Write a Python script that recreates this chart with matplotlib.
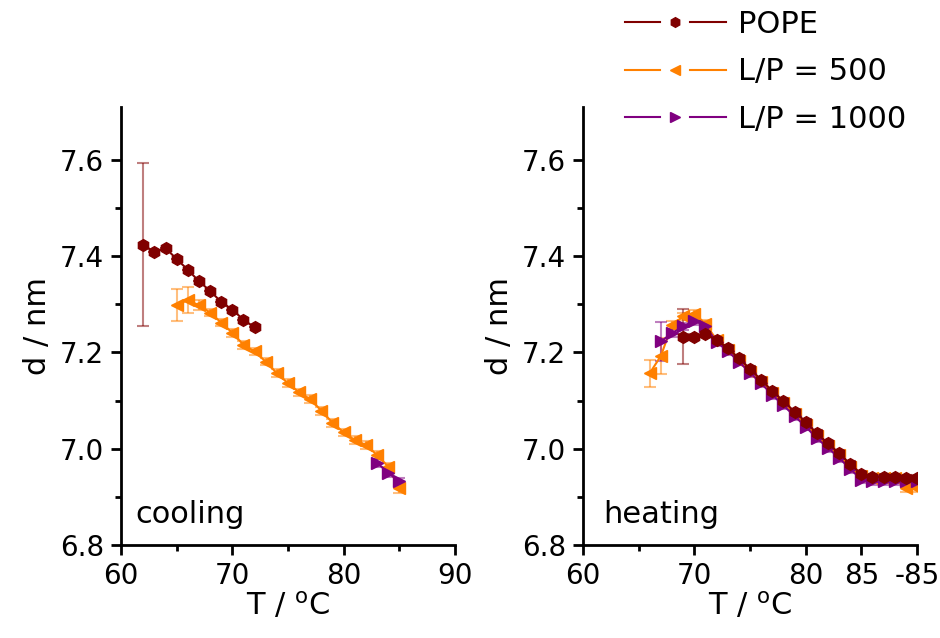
import matplotlib
matplotlib.use("Agg")
import matplotlib.pyplot as plt
from matplotlib.lines import Line2D
from matplotlib.legend_handler import HandlerBase
from matplotlib.ticker import MultipleLocator, FixedLocator

plt.rcParams["font.family"] = ["DejaVu Sans"]

# cooling (left panel)
cool_T_pope = [62, 63, 64, 65, 66, 67, 68, 69, 70, 71, 72]
cool_d_pope = [7.424, 7.408, 7.417, 7.394, 7.372, 7.348, 7.328, 7.305, 7.289, 7.268, 7.252]
cool_e_pope = [0.17, 0, 0, 0, 0, 0, 0, 0, 0, 0, 0]

cool_T_500 = [65, 66, 67, 68, 69, 70, 71, 72, 73, 74, 75, 76, 77, 78, 79, 80, 81, 82, 83, 84, 85]
cool_d_500 = [7.298, 7.309, 7.298, 7.283, 7.262, 7.241, 7.216, 7.202, 7.181, 7.157, 7.136,
              7.117, 7.103, 7.079, 7.054, 7.034, 7.018, 7.008, 6.987, 6.963, 6.918]
cool_e_500 = [0.033, 0.028, 0.01, 0.008, 0.008, 0.008, 0.008, 0.008, 0.008, 0.008, 0.008,
              0.008, 0.008, 0.008, 0.008, 0.008, 0.008, 0.008, 0.008, 0.008, 0.01]

cool_T_1000 = [83, 84, 85]
cool_d_1000 = [6.971, 6.950, 6.932]
cool_e_1000 = [0.008, 0.008, 0.008]

# heating (right panel); positions 86-90 are the hold at 85 °C
heat_T_pope = [69, 70, 71, 72, 73, 74, 75, 76, 77, 78, 79, 80, 81, 82, 83, 84, 85, 86, 87, 88, 89, 90]
heat_d_pope = [7.233, 7.233, 7.238, 7.226, 7.209, 7.188, 7.166, 7.143, 7.120, 7.099, 7.077,
               7.056, 7.032, 7.011, 6.991, 6.968, 6.948, 6.941, 6.941, 6.941, 6.939, 6.939]
heat_e_pope = [0.058] + [0.006] * 21

heat_T_500 = [66, 67, 68, 69, 70, 71, 72, 73, 74, 75, 76, 77, 78, 79, 80, 81, 82, 83, 84, 85,
              86, 87, 88, 89, 90]
heat_d_500 = [7.157, 7.193, 7.257, 7.275, 7.280, 7.260, 7.226, 7.205, 7.183, 7.160, 7.138,
              7.115, 7.094, 7.072, 7.050, 7.027, 7.006, 6.986, 6.963, 6.943, 6.940, 6.940,
              6.940, 6.918, 6.918]
heat_e_500 = [0.028, 0.038] + [0.008] * 23

heat_T_1000 = [67, 68, 69, 70, 71, 72, 73, 74, 75, 76, 77, 78, 79, 80, 81, 82, 83, 84, 85,
               86, 87, 88, 89, 90]
heat_d_1000 = [7.223, 7.240, 7.254, 7.266, 7.255, 7.222, 7.203, 7.181, 7.158, 7.136, 7.112,
               7.090, 7.068, 7.046, 7.022, 7.002, 6.981, 6.958, 6.936, 6.932, 6.932, 6.932,
               6.932, 6.932]
heat_e_1000 = [0.04] + [0.008] * 23

heat_ticks = [60, 70, 80, 85, 90]
heat_ticklabels = ["60", "70", "80", "85", "-85"]

c_pope = "#800000"
c_500 = "#ff8000"
c_1000 = "#800080"


class GapHandler(HandlerBase):
    # line - marker - line, with gaps round the marker (Origin style)
    def create_artists(self, legend, orig, xdescent, ydescent, width, height, fontsize, trans):
        y = height / 2 - ydescent
        x0 = -xdescent
        kw = dict(color=orig.get_color(), lw=orig.get_linewidth())
        l1 = Line2D([x0, x0 + 0.35 * width], [y, y], **kw)
        l2 = Line2D([x0 + 0.65 * width, x0 + width], [y, y], **kw)
        m = Line2D([x0 + width / 2], [y], marker=orig.get_marker(), ms=7,
                   color=orig.get_color(), ls="none")
        for a in (l1, l2, m):
            a.set_transform(trans)
        return [l1, l2, m]


fig = plt.figure(figsize=(9.4, 6.38), dpi=100)
ax1 = fig.add_axes([0.1287, 0.1458, 0.3553, 0.6865])
ax2 = fig.add_axes([0.6202, 0.1458, 0.3553, 0.6865])


def draw(ax, T, d, e, color, marker, label, ms):
    ax.errorbar(T, d, yerr=e, fmt="none", ecolor=color, alpha=0.5, elinewidth=1.5,
                capsize=4, capthick=1.5, zorder=2)
    ax.plot(T, d, color=color, marker=marker, ms=ms, lw=1.5, label=label, zorder=3)


draw(ax1, cool_T_500, cool_d_500, cool_e_500, c_500, "<", "L/P = 500", 9)
draw(ax1, cool_T_1000, cool_d_1000, cool_e_1000, c_1000, ">", "L/P = 1000", 9)
draw(ax1, cool_T_pope, cool_d_pope, cool_e_pope, c_pope, "h", "POPE", 8.5)

draw(ax2, heat_T_500, heat_d_500, heat_e_500, c_500, "<", "L/P = 500", 9)
draw(ax2, heat_T_1000, heat_d_1000, heat_e_1000, c_1000, ">", "L/P = 1000", 9)
draw(ax2, heat_T_pope, heat_d_pope, heat_e_pope, c_pope, "h", "POPE", 8.5)

for ax in (ax1, ax2):
    ax.set_xlim(60, 90)
    ax.set_ylim(6.8, 7.71)
    ax.yaxis.set_major_locator(FixedLocator([6.8, 7.0, 7.2, 7.4, 7.6]))
    ax.yaxis.set_minor_locator(FixedLocator([6.9, 7.1, 7.3, 7.5]))
    ax.set_yticklabels(["6.8", "7.0", "7.2", "7.4", "7.6"])
    for s in ("top", "right"):
        ax.spines[s].set_visible(False)
    for s in ("left", "bottom"):
        ax.spines[s].set_linewidth(2)
    ax.tick_params(which="major", direction="out", length=7, width=2, labelsize=20, pad=5)
    ax.tick_params(which="minor", direction="out", length=4, width=2)
    ax.set_ylabel("d / nm", fontsize=22, labelpad=6)
    ax.set_xlabel("T / $^\\mathregular{o}$C", fontsize=22, labelpad=0)

ax1.xaxis.set_major_locator(MultipleLocator(10))
ax1.xaxis.set_minor_locator(MultipleLocator(5))
ax2.xaxis.set_major_locator(FixedLocator(heat_ticks))
ax2.set_xticklabels(heat_ticklabels)
ax2.xaxis.set_minor_locator(FixedLocator([65, 75]))

ax1.text(0.042, 0.05, "cooling", transform=ax1.transAxes, fontsize=22)
ax2.text(0.06, 0.05, "heating", transform=ax2.transAxes, fontsize=22)

handles, labels = ax2.get_legend_handles_labels()
order = [2, 0, 1]
fig.legend([handles[i] for i in order], [labels[i] for i in order],
           loc="upper left", bbox_to_anchor=(0.642, 1.018), frameon=False,
           fontsize=22, handlelength=3.3, labelspacing=0.6,
           handletextpad=0.4, borderpad=0.2,
           handler_map={Line2D: GapHandler()})

fig.savefig("out.png", dpi=100)
